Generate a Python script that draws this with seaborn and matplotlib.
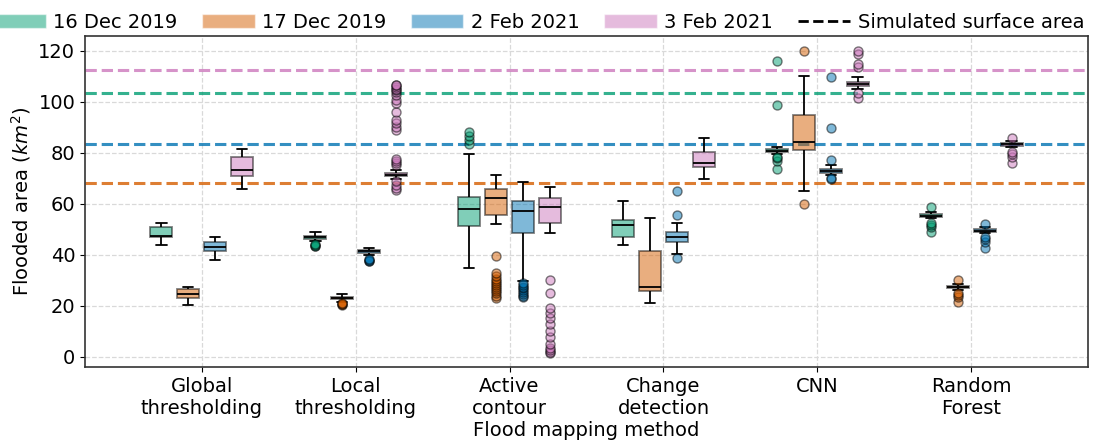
import matplotlib
matplotlib.use("Agg")
import matplotlib.pyplot as plt
from matplotlib.patches import Patch
from matplotlib.lines import Line2D
import pandas as pd
import seaborn as sns

# categories
methods = ["Global\nthresholding", "Local\nthresholding", "Active\ncontour",
           "Change\ndetection", "CNN", "Random\nForest"]
dates = ["16 Dec 2019", "17 Dec 2019", "2 Feb 2021", "3 Feb 2021"]

# simulated surface area per date (km2)
simulated = [103.6, 68.1, 83.3, 112.5]

# flooded area samples, one list per date (same order as dates)
global_thr = [
    [43.8, 46.9, 47.5, 50.9, 52.6],
    [20.4, 22.9, 24.5, 26.7, 27.3],
    [37.9, 41.4, 42.9, 45.1, 46.8],
    [65.6, 71.0, 73.1, 78.2, 81.3],
]
local_thr = [
    [43.4, 43.6, 43.8, 44.0, 45.5, 46.1, 46.3, 46.5, 46.6, 46.7, 46.8,
     46.9, 47.0, 47.1, 47.2, 47.3, 47.6, 48.0, 48.3, 48.6, 48.9],
    [20.4, 20.6, 20.7, 20.9, 21.5, 22.5, 22.7, 22.8, 22.9, 23.0, 23.0,
     23.1, 23.2, 23.3, 23.4, 23.5, 23.8, 24.0, 24.3, 24.5, 24.7],
    [37.4, 37.7, 37.9, 38.2, 39.9, 40.8, 40.9, 41.0, 41.1, 41.2, 41.3,
     41.4, 41.5, 41.5, 41.6, 41.7, 41.9, 42.0, 42.2, 42.4, 42.5],
    [65.2, 66.3, 67.5, 68.8, 69.6, 69.8, 70.0, 70.1, 70.2, 70.3, 70.4,
     70.5, 70.5, 70.6, 70.6, 70.7, 70.7, 70.8, 70.8,
     70.9,
     70.9, 71.0, 71.0, 71.0, 71.1, 71.1, 71.1, 71.1, 71.2, 71.2, 71.2,
     71.2, 71.3, 71.3, 71.3, 71.3, 71.3, 71.4,
     71.4,
     71.4, 71.5, 71.5, 71.5, 71.5, 71.6, 71.6, 71.6, 71.6, 71.7, 71.7,
     71.7, 71.7, 71.8, 71.8, 71.8, 71.8, 71.9,
     71.9,
     73.2, 75.2, 76.0, 76.8, 77.6, 88.9, 90.2, 91.5, 92.8, 96.1, 99.4,
     100.7, 102.6, 103.9, 104.5, 105.2, 106.0, 106.5, 106.8],
]
active_cont = [
    [34.7, 40.0, 45.0, 48.5, 50.2, 51.3, 53.0, 54.5, 56.0, 57.0, 57.9,
     59.0, 60.0, 61.0, 62.0, 62.7, 79.4, 83.4, 85.0, 86.5, 88.0],
    [22.8, 23.8, 24.8, 25.6, 26.4, 27.2, 28.0, 28.8, 29.7, 30.6, 31.6,
     32.7, 39.6, 51.9,
     55.6,
     56.0, 56.5, 57.0, 57.5, 58.0, 58.5, 59.0, 59.5, 60.0, 60.5, 61.0,
     61.5, 62.0,
     62.4,
     62.6, 62.8, 63.0, 63.2, 63.5, 63.8, 64.0, 64.3, 64.6, 64.9, 65.2,
     65.5, 65.7,
     65.9,
     66.2, 66.5, 66.8, 67.1, 67.4, 67.7, 68.0, 68.3, 68.6, 69.0, 69.5,
     70.0, 70.6, 71.3],
    [23.2, 23.9, 24.6, 25.3, 26.0, 26.8, 27.5, 28.2, 29.0, 29.7,
     48.4,
     49.5, 50.5, 51.5, 52.5, 53.5, 54.5, 55.5, 56.3, 57.0,
     57.3,
     57.7, 58.1, 58.5, 58.9, 59.3, 59.7, 60.1, 60.5, 60.8,
     61.1,
     61.8, 62.5, 63.2, 63.9, 64.6, 65.3, 66.0, 66.8, 67.6, 68.4],
    [1.2, 1.8, 2.5, 3.5, 5.0, 7.5, 10.0, 12.6, 15.0, 17.2, 19.0, 24.9,
     30.0, 48.4,
     52.3,
     52.8, 53.3, 53.8, 54.3, 54.8, 55.3, 55.8, 56.3, 56.8, 57.3, 57.8,
     58.2, 58.5,
     58.8,
     59.0, 59.2, 59.4, 59.6, 59.8, 60.0, 60.3, 60.6, 60.9, 61.2, 61.5,
     61.8, 62.0,
     62.1,
     62.4, 62.7, 63.0, 63.3, 63.6, 63.9, 64.2, 64.5, 64.8, 65.1, 65.4,
     65.7, 66.1, 66.5],
]
change_det = [
    [43.7, 47.1, 51.6, 53.7, 61.2],
    [20.9, 25.9, 27.5, 41.5, 54.5],
    [38.6, 40.4, 43.0, 45.0, 45.6, 46.2, 46.8, 47.5, 48.2, 49.0, 52.6,
     55.4, 65.0],
    [69.8, 74.5, 75.8, 80.5, 85.9],
]
cnn = [
    [73.5, 76.9, 78.1, 78.4, 79.6, 80.3, 80.4, 80.5, 80.6, 80.7, 80.8,
     80.9, 81.0, 81.1, 81.3, 81.4, 81.6, 81.8, 82.1, 98.7, 116.0],
    [59.9, 65.0, 81.1, 82.5, 84.3, 89.0, 94.7, 110.2, 120.1],
    [69.9, 70.1, 71.1, 71.6, 72.2, 72.4, 72.6, 72.8, 72.9, 73.0, 73.2,
     73.3, 73.5, 75.3, 77.1, 89.7, 109.7],
    [101.7, 103.3, 105.2, 105.8, 106.0, 106.3, 106.5, 106.7, 106.9, 107.0,
     107.2, 107.3, 107.4, 107.5, 107.7, 107.8, 109.8, 113.7, 115.0, 118.6,
     120.1],
]
rforest = [
    [48.8, 50.9, 51.8, 52.4, 54.3, 54.7, 54.8, 54.9, 55.1, 55.2, 55.3,
     55.4, 55.6, 55.7, 55.9, 56.0, 56.2, 56.4, 56.5, 56.7, 58.6],
    [21.6, 23.3, 24.0, 25.0, 26.2, 26.8, 26.9, 27.0, 27.1, 27.1, 27.2,
     27.3, 27.4, 27.5, 27.7, 27.8, 28.0, 28.1, 28.3, 28.5, 30.1],
    [42.5, 45.0, 46.0, 47.0, 48.4, 48.9, 49.0, 49.1, 49.2, 49.3, 49.4,
     49.5, 49.6, 49.7, 49.9, 50.0, 50.2, 50.3, 50.5, 50.7, 52.2],
    [75.8, 78.4, 79.4, 80.4, 82.1, 82.6, 82.7, 82.9, 83.0, 83.2, 83.3,
     83.4, 83.5, 83.6, 83.8, 83.9, 84.1, 84.2, 84.4, 84.6, 86.0],
]

rows = []
for m, groups in zip(methods, [global_thr, local_thr, active_cont,
                               change_det, cnn, rforest]):
    for d, vals in zip(dates, groups):
        for v in vals:
            rows.append((m, d, v))
df = pd.DataFrame(rows, columns=["method", "date", "area"])

sns.set_style("ticks")
plt.rcParams["font.family"] = ["DejaVu Sans"]
plt.rcParams["text.color"] = "black"
plt.rcParams["xtick.color"] = "black"
plt.rcParams["ytick.color"] = "black"
plt.rcParams["axes.labelcolor"] = "black"
pal = sns.color_palette("colorblind")
colors = [pal[2], pal[3], pal[0], pal[4]]

fig, ax = plt.subplots(figsize=(11.04, 4.43), dpi=100)
fig.subplots_adjust(left=0.077, right=0.9855, top=0.919, bottom=0.171)

for c, s in zip(colors, simulated):
    ax.axhline(s, color=c, ls="--", lw=2.2, alpha=0.8, zorder=1)

sns.boxplot(data=df, x="method", y="area", hue="date", order=methods,
            hue_order=dates, palette=colors, saturation=1, width=0.7, gap=0.2,
            linecolor="black", linewidth=1.3, fliersize=6.5,
            boxprops={"alpha": 0.5}, flierprops={"marker": "o"},
            legend=False, ax=ax)

# colour the outliers like their box
boxes = [(p.get_path().vertices[:4, 0].mean(), p.get_facecolor())
         for p in ax.patches]
for ln in ax.lines:
    if ln.get_marker() == "o" and len(ln.get_xdata()):
        x0 = ln.get_xdata()[0]
        fc = min(boxes, key=lambda b: abs(b[0] - x0))[1]
        ln.set_markerfacecolor(fc[:3])
        ln.set_markeredgecolor("black")
        ln.set_alpha(0.5)

ax.set_xlim(-0.757, 5.757)
ax.set_ylim(-4.2, 125.9)
ax.set_yticks([0, 20, 40, 60, 80, 100, 120])
ax.grid(True, ls="--", color="0.85", lw=0.9)
ax.set_axisbelow(True)
for s in ax.spines.values():
    s.set_linewidth(1.2)
    s.set_color("0.2")
ax.tick_params(labelsize=14)
ax.set_xlabel("Flood mapping method", fontsize=14, labelpad=2)
ax.set_ylabel("Flooded area ($km^2$)", fontsize=14)

handles = [Patch(facecolor=c, alpha=0.5, label=d) for c, d in zip(colors, dates)]
handles.append(Line2D([0], [0], color="black", ls="--", lw=2,
                      label="Simulated surface area"))
fig.legend(handles=handles, loc="upper center", bbox_to_anchor=(0.488, 1.01),
           ncol=5, frameon=False, fontsize=14, handlelength=2.7,
           handletextpad=0.4, columnspacing=1.25)

fig.savefig("out.png", dpi=100)
